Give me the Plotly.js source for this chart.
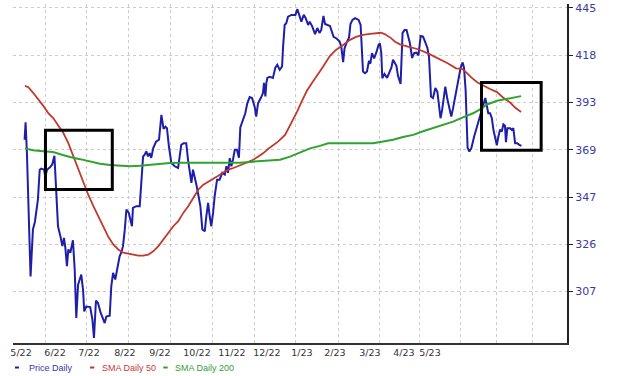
<!DOCTYPE html>
<html><head><meta charset="utf-8">
<script src="https://cdn.plot.ly/plotly-3.0.1.min.js"></script>
<style>html,body{margin:0;padding:0;background:#fff;}#chart{width:620px;height:376px;}</style>
</head><body><div id="chart"></div>
<script>
// x = trading session index (0 = first session shown)
const priceDays = [0.3,0.8,1.5,3.3,4.5,5.5,7.0,7.9,8.7,10.1,
10.7,11.6,13.2,14.2,15.3,16.2,17.1,18.3,19.3,20.1,
20.8,21.6,22.3,23.3,24.6,25.5,26.3,27.2,28.8,29.7,
30.3,31.3,33.3,34.4,35.2,36.2,37.2,38.6,39.7,40.6,
41.4,43.1,43.9,44.8,45.9,47.3,48.1,48.9,49.8,50.7,
51.5,52.7,53.7,54.3,54.8,56.5,58.2,59.0,59.9,60.7,
61.5,62.4,63.2,64.0,65.0,66.4,67.9,69.1,70.2,71.2,
71.9,72.9,74.1,75.8,77.5,78.3,79.1,80.3,81.6,82.5,
83.3,84.2,85.0,85.9,86.7,87.5,88.7,89.7,90.9,91.7,
92.6,93.4,94.2,95.1,95.9,97.1,98.4,99.7,101.0,101.8,
102.6,103.5,104.3,105.1,106.0,107.1,108.1,108.8,110.0,111.3,
112.3,113.5,114.7,116.0,116.8,117.7,119.1,120.2,120.7,121.4,
121.9,122.4,123.6,125.2,126.4,127.4,128.6,129.8,130.3,131.1,
131.9,132.8,134.5,136.5,137.5,138.7,139.5,140.7,141.7,142.9,
143.7,144.9,146.4,147.5,148.6,149.5,150.6,151.4,152.9,153.9,
155.7,157.2,158.7,159.6,160.5,161.2,162.2,163.5,164.2,165.2,
166.5,168.3,169.3,170.5,171.5,172.5,173.5,174.2,175.0,176.1,
177.3,178.3,179.0,179.7,180.2,181.3,182.6,183.6,184.8,185.6,
187.3,188.1,189.4,190.4,191.4,192.4,193.2,194.1,195.2,196.2,
197.4,198.4,199.5,200.7,201.7,202.9,203.7,204.7,205.7,206.9,
207.9,208.6,209.5,210.3,211.3,211.9,212.9,214.0,214.9,215.8,
216.6,217.9,218.6,219.6,220.6,221.3,222.1,222.6,223.1,224.0,
225.0,226.4,227.6,229.0,230.2,231.4,232.0,232.7,233.5,234.4,
235.3,236.1,236.9,237.8,238.6,239.4,240.3,241.1,241.9,242.4,
243.1,244.5,245.3,246.1,247.0,248.1,249.1,250.2];
const priceVals = [374.5,383.1,367.2,313.1,333.0,336.4,346.3,360.1,360.6,360.1,
356.8,360.1,361.4,362.5,366.7,350.8,334.4,330.1,325.8,329.3,
325.1,317.4,324.4,323.0,328.3,316.0,296.6,309.8,313.9,307.7,
299.1,301.0,300.8,295.9,288.9,303.4,302.4,298.5,295.9,294.6,
297.1,297.4,309.1,314.6,311.9,318.7,321.5,323.0,325.8,333.0,
341.8,340.3,337.3,334.4,342.5,343.3,343.3,352.3,366.4,367.2,
368.8,366.4,368.0,365.7,370.4,373.5,374.5,386.9,379.9,380.9,
380.2,371.2,363.3,361.7,360.9,366.4,372.0,372.8,372.8,364.8,
358.6,353.9,360.1,356.9,353.1,349.3,343.3,333.0,332.2,338.8,
344.8,338.8,334.4,340.3,347.8,355.4,355.4,358.6,357.8,361.7,
358.6,365.6,361.7,364.8,369.6,369.6,365.8,380.6,384.4,387.7,
392.8,396.0,395.5,391.1,386.0,392.8,395.5,398.1,403.5,396.3,
403.5,406.1,406.7,406.1,411.6,413.1,410.4,412.2,422.9,435.2,
436.2,440.0,441.0,441.0,444.3,439.1,437.1,441.0,439.1,435.2,
437.1,434.6,430.0,433.5,430.7,432.4,440.4,435.8,435.2,434.6,
428.5,427.6,426.0,422.8,414.5,422.0,425.1,428.2,435.8,438.1,
439.1,438.1,435.2,409.5,408.6,409.5,415.3,413.7,419.5,416.6,
420.1,424.0,424.9,419.5,405.9,408.2,406.1,408.6,411.7,415.8,
412.6,407.2,402.9,430.7,432.4,432.4,428.2,424.9,416.8,419.5,
419.7,418.2,429.0,428.6,425.8,422.3,417.4,396.3,395.5,400.7,
398.8,392.0,385.2,389.4,395.5,401.5,395.1,389.4,386.0,390.3,
394.6,401.5,405.9,411.5,414.4,411.5,399.8,381.9,370.6,368.8,
370.4,376.1,380.2,385.2,389.4,394.6,395.5,392.0,387.7,387.7,
385.2,379.4,375.3,371.8,376.1,379.4,378.5,382.1,381.4,373.3,
380.2,380.2,379.4,380.2,372.8,372.8,372.0,371.5];

const sma50Days = [0.5,2.2,4.7,7.2,9.7,12.2,14.7,17.3,19.8,22.3,
24.8,27.3,29.8,32.3,34.9,37.4,39.9,42.4,44.9,47.4,
49.9,52.5,55.0,57.5,60.0,62.5,65.0,67.6,70.1,72.6,
75.1,77.6,80.1,82.6,85.2,87.7,90.2,92.7,95.2,97.7,
100.2,102.8,105.3,107.8,110.3,112.8,115.3,117.9,120.4,122.9,
125.4,127.9,131.3,134.3,137.3,139.8,142.3,144.9,147.4,150.4,
153.9,156.9,160.5,164.0,167.0,170.5,174.0,177.6,179.6,181.6,
184.6,186.6,189.1,193.1,198.2,203.2,208.2,213.3,217.3,220.3,
222.3,224.8,227.9,230.9,234.4,237.9,240.9,244.5,247.0,250.0];
const sma50Vals = [401.9,401.2,398.1,395.0,391.5,387.8,385.3,381.4,377.8,372.8,
366.4,360.9,354.6,348.5,343.3,338.8,333.7,329.8,326.5,324.4,
323.0,322.7,322.2,321.8,321.8,322.2,323.6,325.8,328.6,331.5,
334.4,336.6,340.3,343.3,347.1,350.8,353.1,354.6,356.2,357.3,
358.8,360.1,360.9,361.7,362.8,363.8,364.8,366.4,368.0,370.1,
372.0,373.7,376.9,382.4,388.4,394.1,399.3,403.5,407.2,412.0,
418.0,421.2,424.0,426.8,428.5,429.6,430.2,430.6,430.8,429.9,
427.8,425.8,424.3,423.0,421.6,419.3,416.6,413.8,411.2,410.9,
409.2,406.5,403.8,402.0,400.2,398.6,395.8,393.2,390.6,388.4];

const sma200Days = [0.5,4.5,9.6,14.6,19.1,23.1,28.2,33.2,38.2,43.3,
48.3,53.3,58.3,63.4,68.4,73.4,78.5,83.5,88.5,93.6,
98.6,103.6,108.6,113.7,118.7,123.7,128.8,133.8,138.8,143.9,
148.9,152.9,158.9,165.5,172.5,175.5,180.6,185.6,190.6,195.7,
200.7,205.7,210.8,215.8,220.8,225.8,229.4,232.9,237.9,243.0,
247.0,250.0];
const sma200Vals = [370.3,369.4,368.9,368.5,367.2,366.1,365.1,364.0,362.9,362.3,
362.0,361.7,362.0,362.5,362.9,363.3,363.4,363.4,363.3,363.3,
363.4,363.4,363.4,363.8,364.2,364.5,364.8,366.3,368.4,370.3,
371.5,372.8,372.8,372.8,373.1,372.8,373.6,374.5,375.8,376.9,
378.7,380.2,381.9,383.5,385.6,387.7,389.7,392.2,394.1,395.2,
396.2,396.5];

const monthTickDays = [-1.5,15.6,32.7,50.8,68.4,87.0,104.6,122.2,139.8,156.4,174.0,191.1,204.2];
const monthTickLabels = ['5/22','6/22','7/22','8/22','9/22','10/22','11/22','12/22','1/23','2/23','3/23','4/23','5/23'];
const gridDays = [10.6,31.5,52.8,73.8,94.7,115.7,136.7,158.1,178.6,198.8,219.3,237.8,255.9];
const priceTickVals = [307.0,326.6,347.4,369.6,393.2,418.3,445.0];
const priceTickLabels = ['307','326','347','369','393','418','445'];
const boxDays = [[10.8,44.4],[230.1,260.1]];
const boxPrices = [[350.9,379.2],[369.4,403.7]];

const seriesNames = ['Price Daily','SMA Daily 50','SMA Daily 200'];
const seriesColors = ['#1e1eaa','#c0392b','#2ea32e'];
const legendTextColors = ['#3434b0','#c83a3a','#35a035'];

const traces = [
  {x: priceDays, y: priceVals, name: seriesNames[0], type:'scatter', mode:'lines', line:{color:seriesColors[0], width:2}},
  {x: sma50Days, y: sma50Vals, name: seriesNames[1], type:'scatter', mode:'lines', line:{color:seriesColors[1], width:1.8}},
  {x: sma200Days, y: sma200Vals, name: seriesNames[2], type:'scatter', mode:'lines', line:{color:seriesColors[2], width:2}}
];

const shapes = boxDays.map((d,i) => ({type:'rect', xref:'x', yref:'y', x0:d[0], x1:d[1],
  y0:boxPrices[i][0], y1:boxPrices[i][1], line:{color:'#000', width:3}, fillcolor:'rgba(0,0,0,0)', layer:'above'}));

// legend (below the axis)
const legendX = [[0.0036,0.0108,0.0247],[0.1390,0.1468,0.1570],[0.2713,0.2792,0.2888]];
const legendY = -0.0723;
const annotations = [];
seriesNames.forEach((n,i) => {
  shapes.push({type:'line', xref:'paper', yref:'paper', x0:legendX[i][0], x1:legendX[i][1], y0:legendY, y1:legendY,
    line:{color:seriesColors[i], width:2}});
  annotations.push({xref:'paper', yref:'paper', x:legendX[i][2], y:legendY, xanchor:'left', yanchor:'middle',
    text:n, showarrow:false, font:{family:'Liberation Sans, Arial, sans-serif', size:9, color:legendTextColors[i]}});
});

const layout = {
  width:620, height:376,
  margin:{l:13, r:53, t:4, b:33, pad:0},
  paper_bgcolor:'#fff', plot_bgcolor:'#fff',
  showlegend:false, hovermode:false,
  xaxis:{type:'linear', range:[-5.53,273.1], tickmode:'array', tickvals:monthTickDays, ticktext:monthTickLabels,
    showgrid:false, zeroline:false, showline:true, linecolor:'#333', linewidth:2, ticks:'',
    tickfont:{family:'DejaVu Sans, Verdana, sans-serif', size:9.5, color:'#333'},
    minor:{tickmode:'array', tickvals:gridDays, showgrid:true, gridcolor:'#cccccc', griddash:'dot', gridwidth:1, ticks:''}},
  yaxis:{type:'log', range:[2.45788,2.65063], side:'right', tickmode:'array', tickvals:priceTickVals, ticktext:priceTickLabels,
    showgrid:true, gridcolor:'#cccccc', griddash:'dot', gridwidth:1, zeroline:false,
    showline:true, linecolor:'#222', linewidth:2, ticks:'outside', ticklen:4, tickcolor:'#222', tickwidth:1,
    tickfont:{family:'DejaVu Sans, Verdana, sans-serif', size:11, color:'#3b3ba0'}},
  shapes: shapes,
  annotations: annotations
};

Plotly.newPlot('chart', traces, layout, {displayModeBar:false, staticPlot:true});
</script>
</body></html>
